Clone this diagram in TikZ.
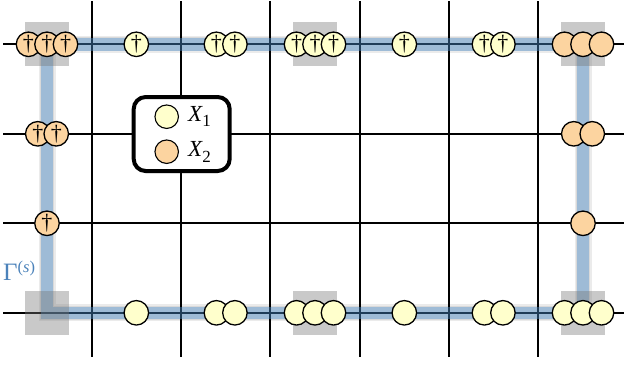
\documentclass[tikz,border=0pt]{standalone}
\usepackage{fontspec}
\setmainfont{Liberation Serif}
\usetikzlibrary{shadows}
\definecolor{cyel}{HTML}{FFFFCC}
\definecolor{corg}{HTML}{FCD4A0}
\definecolor{cblue}{HTML}{3E78AE}
\definecolor{cgam}{HTML}{4B82BA}
\definecolor{cgray}{RGB}{120,120,120}
\tikzset{
  gridline/.style={line width=1.8pt},
  site/.style={circle, draw, line width=1.3pt, minimum size=24.5pt, inner sep=0pt},
  yel/.style={site, fill=cyel},
  org/.style={site, fill=corg},
  dagfont/.style={font=\fontsize{22}{22}\selectfont},
  band/.style={cblue, opacity=0.5, line width=12.5pt, line join=miter},
  bandbase/.style={white, line width=12.5pt, line join=miter},
  bandshadow/.style={black, opacity=0.08, line join=miter},
  corner/.style={fill=cgray, opacity=0.4},
  legendbox/.style={draw, line width=4pt, rounded corners=12pt, fill=white,
    minimum width=96pt, minimum height=74pt, inner sep=0pt,
    drop shadow={shadow xshift=-1pt, shadow yshift=-2pt, opacity=0.35}},
  legsite/.style={circle, draw, line width=1.1pt, minimum size=23.5pt, inner sep=0pt},
}
% #1 name, #2 x, #3 y, #4 count, #5 style, #6 text
\newcommand\sitegroup[6]{%
  \foreach \i in {1,...,#4}{%
    \node[#5] (#1-\i) at ({#2+(\i-(#4+1)/2)*18.5},#3) {#6};
  }%
}
\begin{document}
\begin{tikzpicture}[x=1pt,y=-1pt]
\useasboundingbox (0,0) rectangle (624,367);
% loop corners
\coordinate (tl) at (47,44.3);
\coordinate (tr) at (583,44.3);
\coordinate (br) at (583,312.8);
\coordinate (bl) at (47,312.8);
\coordinate (tm) at (315,44.3);
\coordinate (bm) at (315,312.8);
% band shadow
\begin{scope}[shift={(-2.5,2.5)}]
  \draw[bandshadow, line width=17pt] (tl) -- (tr) -- (br) -- (bl) -- cycle;
  \draw[bandshadow, line width=14pt] (tl) -- (tr) -- (br) -- (bl) -- cycle;
\end{scope}
\draw[bandbase] (tl) -- (tr) -- (br) -- (bl) -- cycle;
% grid
\foreach \k in {0,...,5}{
  \draw[gridline] ({91.7+89.33*\k},1) -- ({91.7+89.33*\k},357);
}
\foreach \r in {44.3,133.8,223.3,312.8}{
  \draw[gridline] (3,\r) -- (624,\r);
}
\draw[band] (tl) -- (tr) -- (br) -- (bl) -- cycle;
% gray squares
\foreach \c in {tl,tr,br,bl,tm,bm}{
  \fill[corner] ([shift={(-22,-22)}]\c) rectangle ([shift={(22,22)}]\c);
}
% top row
\sitegroup{a0}{47}{44.3}{3}{org,dagfont}{†}
\sitegroup{a1}{136.33}{44.3}{1}{yel,dagfont}{†}
\sitegroup{a2}{225.67}{44.3}{2}{yel,dagfont}{†}
\sitegroup{a3}{315}{44.3}{3}{yel,dagfont}{†}
\sitegroup{a4}{404.33}{44.3}{1}{yel,dagfont}{†}
\sitegroup{a5}{493.67}{44.3}{2}{yel,dagfont}{†}
\sitegroup{a6}{583}{44.3}{3}{org}{}
% second row
\sitegroup{b0}{47}{133.8}{2}{org,dagfont}{†}
\sitegroup{b6}{583}{133.8}{2}{org}{}
% third row
\sitegroup{c0}{47}{223.3}{1}{org,dagfont}{†}
\sitegroup{c6}{583}{223.3}{1}{org}{}
% bottom row
\sitegroup{d1}{136.33}{312.8}{1}{yel}{}
\sitegroup{d2}{225.67}{312.8}{2}{yel}{}
\sitegroup{d3}{315}{312.8}{3}{yel}{}
\sitegroup{d4}{404.33}{312.8}{1}{yel}{}
\sitegroup{d5}{493.67}{312.8}{2}{yel}{}
\sitegroup{d6}{583}{312.8}{3}{yel}{}
% legend
\node[legendbox] (legend) at (181.7,134) {};
\node[legsite, fill=cyel] (l1) at (166.7,116.7) {};
\node[legsite, fill=corg] (l2) at (166.7,151.7) {};
\node[anchor=base west, inner sep=0pt] (t1) at (188,121)
  {{\fontsize{23}{23}\selectfont\itshape X}\raisebox{-5.5pt}{\fontsize{17}{17}\selectfont 1}};
\node[anchor=base west, inner sep=0pt] (t2) at (188,156.5)
  {{\fontsize{23}{23}\selectfont\itshape X}\raisebox{-5.5pt}{\fontsize{17}{17}\selectfont 2}};
% Gamma label
\node[anchor=base west, inner sep=0pt, text=cgam] (gam) at (3,280.5)
  {{\fontsize{25}{25}\selectfont Γ}\raisebox{8.5pt}{\fontsize{16.5}{16.5}\selectfont(\textit{s})}};
\end{tikzpicture}
\end{document}
